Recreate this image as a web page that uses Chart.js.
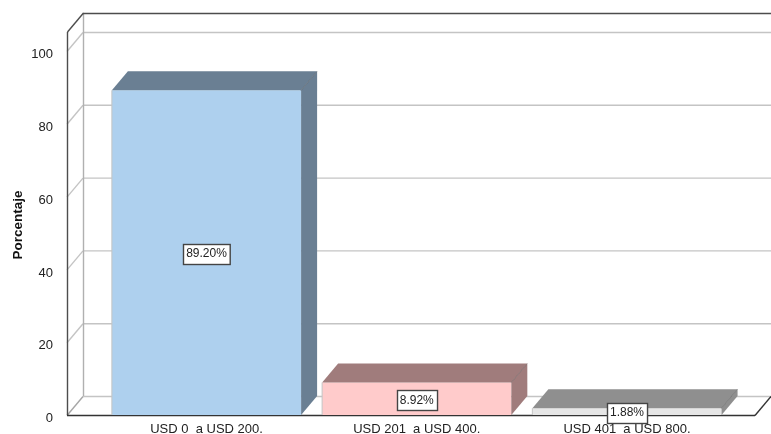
<!DOCTYPE html>
<html>
<head>
<meta charset="utf-8">
<style>
  html, body { margin: 0; padding: 0; background: #fff; }
  canvas { display: block; }
</style>
<script src="https://cdn.jsdelivr.net/npm/chart.js@4"></script>
</head>
<body>
<canvas id="grafico" width="771" height="434"></canvas>
<script>
// valores
const categorias = ['USD 0  a USD 200.', 'USD 201  a USD 400.', 'USD 401  a USD 800.'];
const porcentajes = [89.20, 8.92, 1.88];
const etiquetas = ['89.20%', '8.92%', '1.88%'];
const marcasY = [0, 20, 40, 60, 80, 100];

const colorFrente = ['#aed0ee', '#ffcbcb', '#e6e6e6'];
const colorTapa = ['#6a7f93', '#a07c7c', '#8f8f8f'];

// desplazamiento de la perspectiva 3D
const fondoX = 16;
const fondoY = -19;
const fuente = '"Liberation Sans", Arial, sans-serif';

function linea(ctx, x1, y1, x2, y2, color, grosor) {
  ctx.strokeStyle = color;
  ctx.lineWidth = grosor || 1;
  ctx.beginPath();
  ctx.moveTo(x1, y1);
  ctx.lineTo(x2, y2);
  ctx.stroke();
}

function poligono(ctx, puntos, color) {
  ctx.fillStyle = color;
  ctx.beginPath();
  puntos.forEach((p, i) => i ? ctx.lineTo(p[0], p[1]) : ctx.moveTo(p[0], p[1]));
  ctx.closePath();
  ctx.fill();
}

// paredes, rejilla y caras laterales de las barras
const caja3d = {
  id: 'caja3d',
  beforeDatasetsDraw(chart) {
    const ctx = chart.ctx;
    const y = chart.scales.y;
    const a = chart.chartArea;
    const oscuro = '#4d4d4d';
    const gris = '#c4c4c4';
    const tope = a.top + fondoY;
    ctx.save();
    marcasY.forEach(v => {
      const py = y.getPixelForValue(v) + 0.5;
      linea(ctx, a.left, py, a.left + fondoX, py + fondoY, v === 0 ? '#a6a6a6' : gris, 1.4);
      linea(ctx, a.left + fondoX, py + fondoY, a.right + fondoX, py + fondoY, gris, 1.4);
    });
    linea(ctx, a.left + fondoX + 0.5, tope + fondoY, a.left + fondoX + 0.5, a.bottom + fondoY, '#b0b0b0', 1.4);
    linea(ctx, a.left + 0.5, tope, a.left + 0.5, a.bottom, oscuro, 1.4);
    linea(ctx, a.left + 0.5, tope, a.left + fondoX + 0.5, tope + fondoY, oscuro, 1.4);
    linea(ctx, a.left + fondoX, tope + fondoY + 0.5, a.right + fondoX, tope + fondoY + 0.5, oscuro, 1.4);
    linea(ctx, a.left, a.bottom + 0.5, a.right, a.bottom + 0.5, '#333', 1.4);
    linea(ctx, a.right, a.bottom + 0.5, a.right + fondoX, a.bottom + fondoY + 0.5, '#333', 1.4);
    ctx.restore();
  },
  afterDatasetsDraw(chart) {
    const ctx = chart.ctx;
    const barras = chart.getDatasetMeta(0).data;
    ctx.save();
    barras.forEach((b, i) => {
      const iz = b.x - b.width / 2;
      const de = b.x + b.width / 2;
      const ar = b.y;
      const ab = b.base;
      poligono(ctx, [[iz, ar], [de, ar], [de + fondoX, ar + fondoY], [iz + fondoX, ar + fondoY]], colorTapa[i]);
      poligono(ctx, [[de, ar], [de + fondoX, ar + fondoY], [de + fondoX, ab + fondoY], [de, ab]], colorTapa[i]);
      linea(ctx, de, ar, de + fondoX, ar + fondoY, 'rgba(60,60,60,0.35)');
      linea(ctx, iz, ar, iz, ab, '#c4c4c4');
    });
    // etiquetas de valor
    ctx.font = '12px ' + fuente;
    ctx.textAlign = 'center';
    ctx.textBaseline = 'middle';
    barras.forEach((b, i) => {
      const cy = (b.y + b.base) / 2 + 1;
      const ancho = ctx.measureText(etiquetas[i]).width + 6;
      const alto = 20;
      const x0 = Math.round(b.x - ancho / 2) + 0.5;
      const y0 = Math.round(cy - alto / 2) + 0.5;
      ctx.fillStyle = '#fff';
      ctx.fillRect(x0, y0, ancho, alto);
      ctx.strokeStyle = '#444';
      ctx.lineWidth = 1.4;
      ctx.strokeRect(x0, y0, ancho, alto);
      ctx.fillStyle = '#222';
      ctx.fillText(etiquetas[i], b.x, cy + 0.5);
    });
    // titulo del eje y
    ctx.save();
    ctx.translate(18, 225);
    ctx.rotate(-Math.PI / 2);
    ctx.font = 'bold 13.5px ' + fuente;
    ctx.fillStyle = '#111';
    ctx.fillText('Porcentaje', 0, 0);
    ctx.restore();
    ctx.restore();
  }
};

new Chart('grafico', {
  type: 'bar',
  data: {
    datasets: [{
      data: porcentajes.map((p, i) => ({ x: i, y: p })),
      backgroundColor: colorFrente,
      barPercentage: 0.9,
      categoryPercentage: 1
    }]
  },
  options: {
    responsive: false,
    animation: false,
    layout: { padding: { top: 51, right: 16, left: 0, bottom: 0 } },
    plugins: { legend: { display: false }, tooltip: { enabled: false } },
    scales: {
      x: {
        type: 'linear',
        offset: false,
        min: -0.6635,
        max: 2.609,
        grid: { display: false },
        border: { display: false },
        afterBuildTicks: s => { s.ticks = categorias.map((c, i) => ({ value: i })); },
        afterFit: s => { s.height = 19; },
        ticks: {
          autoSkip: false,
          maxRotation: 0,
          padding: -1,
          color: '#222',
          font: { family: fuente, size: 13 },
          callback: v => categorias[v]
        }
      },
      y: {
        min: 0,
        max: 100,
        grid: { display: false },
        border: { display: false },
        afterFit: s => { s.width = 67; },
        ticks: {
          stepSize: 20,
          padding: 6,
          color: '#222',
          // linea vacia arriba: baja el numero unos pixeles como en el original
          font: { family: fuente, size: 13, lineHeight: 0.55 },
          callback: v => ['', String(v)]
        }
      }
    }
  },
  plugins: [caja3d]
});
</script>
</body>
</html>
